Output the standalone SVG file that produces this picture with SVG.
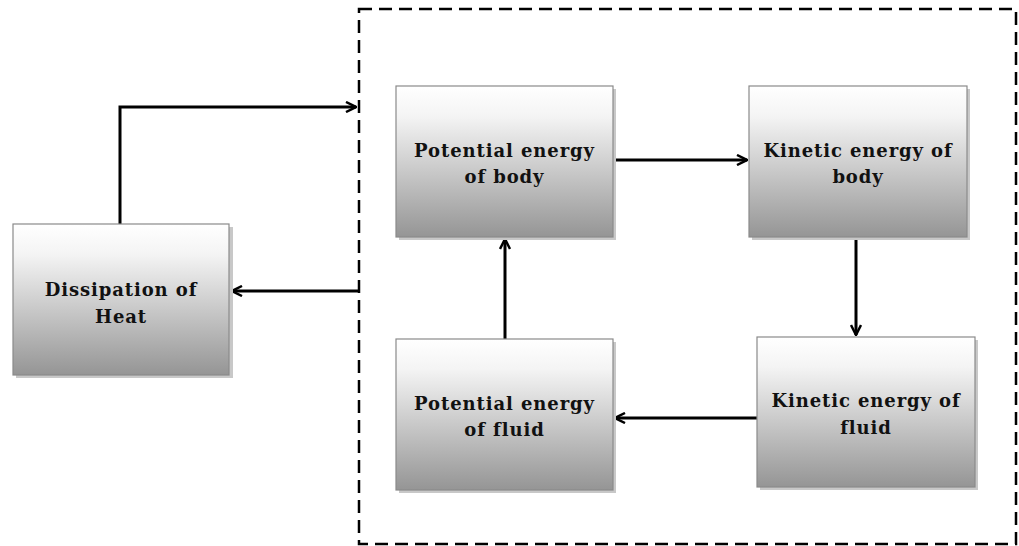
<svg xmlns="http://www.w3.org/2000/svg" width="1019" height="546" viewBox="0 0 1019 546">
<style>
.box{fill:url(#g);stroke:#8a8a8a;stroke-width:1.2}
.sh{fill:#c8c8c8}
.t{font-family:"DejaVu Serif","Liberation Serif",serif;font-size:18px;font-weight:bold;fill:#111;text-anchor:middle;letter-spacing:0.9px}
.c{fill:none;stroke:#000;stroke-width:3}
</style>
<defs>
<linearGradient id="g" x1="0" y1="0" x2="0" y2="1">
<stop offset="0" stop-color="#ffffff"/>
<stop offset="0.2" stop-color="#f4f4f4"/>
<stop offset="1" stop-color="#959595"/>
</linearGradient>
<marker id="a" markerWidth="12" markerHeight="12" viewBox="0 0 12 12" refX="11" refY="6" orient="auto" markerUnits="userSpaceOnUse">
<path d="M1,1 L11,6 L1,11" fill="none" stroke="#000" stroke-width="2.5"/>
</marker>
</defs>
<rect x="359" y="9" width="657" height="535" fill="none" stroke="#000" stroke-width="2.5" stroke-dasharray="13,7"/>
<g id="connectors">
<path class="c" d="M120,224 V107 H356" marker-end="url(#a)"/>
<path class="c" d="M359,291 H232" marker-end="url(#a)"/>
<path class="c" d="M613,160 H747" marker-end="url(#a)"/>
<path class="c" d="M856,237 V335" marker-end="url(#a)"/>
<path class="c" d="M757,418 H615" marker-end="url(#a)"/>
<path class="c" d="M505,339 V239" marker-end="url(#a)"/>
</g>
<g id="dissipation">
<rect class="sh" x="16" y="227" width="217" height="151"/>
<rect class="box" x="13" y="224" width="216" height="151"/>
<text class="t" x="121" y="296">Dissipation of</text>
<text class="t" x="121" y="323">Heat</text>
</g>
<g id="pe-body">
<rect class="sh" x="399" y="89" width="217" height="151"/>
<rect class="box" x="396" y="86" width="217" height="151"/>
<text class="t" x="504.5" y="157">Potential energy</text>
<text class="t" x="504.5" y="183">of body</text>
</g>
<g id="ke-body">
<rect class="sh" x="752" y="89" width="218" height="151"/>
<rect class="box" x="749" y="86" width="218" height="151"/>
<text class="t" x="858" y="157">Kinetic energy of</text>
<text class="t" x="858" y="183">body</text>
</g>
<g id="ke-fluid">
<rect class="sh" x="760" y="340" width="218" height="150"/>
<rect class="box" x="757" y="337" width="218" height="150"/>
<text class="t" x="866" y="407">Kinetic energy of</text>
<text class="t" x="866" y="434">fluid</text>
</g>
<g id="pe-fluid">
<rect class="sh" x="399" y="342" width="217" height="151"/>
<rect class="box" x="396" y="339" width="217" height="151"/>
<text class="t" x="504.5" y="410">Potential energy</text>
<text class="t" x="504.5" y="436">of fluid</text>
</g>
</svg>
